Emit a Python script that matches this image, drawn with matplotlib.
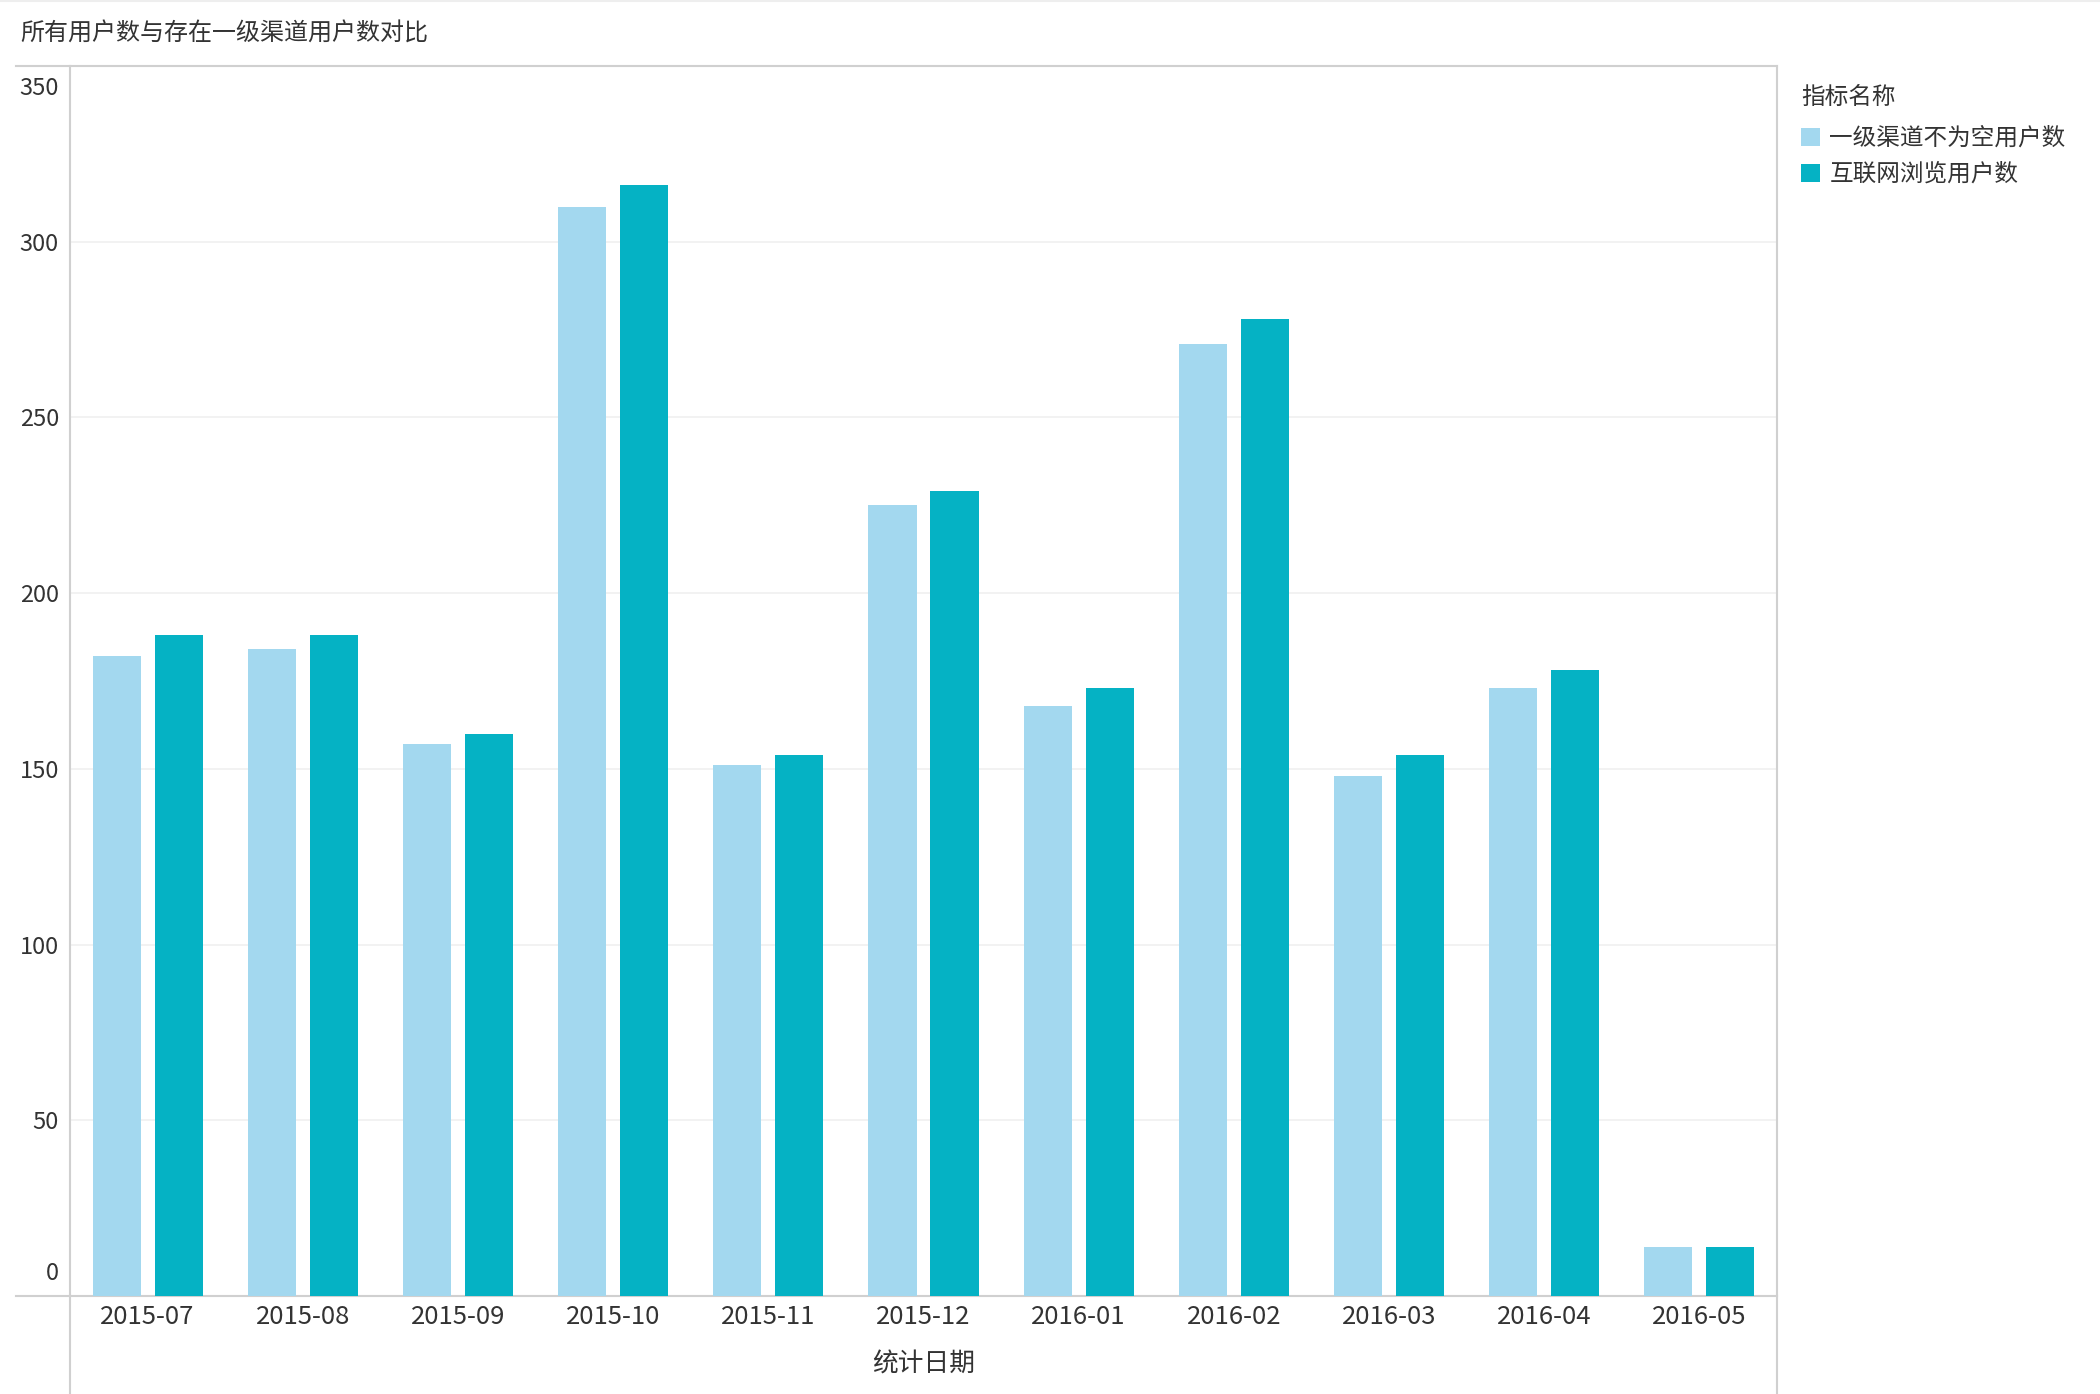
import matplotlib
matplotlib.use("Agg")
import matplotlib.pyplot as plt
import numpy as np
from matplotlib.lines import Line2D
from matplotlib.transforms import ScaledTranslation

plt.rcParams['font.family'] = ['Noto Sans CJK SC', 'DejaVu Sans']

# 数据
months = ["2015-07", "2015-08", "2015-09", "2015-10", "2015-11", "2015-12",
          "2016-01", "2016-02", "2016-03", "2016-04", "2016-05"]
channel_users = [182, 184, 157, 310, 151, 225, 168, 271, 148, 173, 14]
web_users = [188, 188, 160, 316, 154, 229, 173, 278, 154, 178, 14]
series_names = ["一级渠道不为空用户数", "互联网浏览用户数"]
yticks = [0, 50, 100, 150, 200, 250, 300, 350]

light = "#a3d8ef"
dark = "#05b2c4"
line_c = "#d0d0d0"
txt = "#333333"

W, H = 2100, 1394
fig = plt.figure(figsize=(W / 100, H / 100), dpi=100)
ax = fig.add_axes([70 / W, 1 - 1296 / H, (1777 - 70) / W, (1296 - 66) / H])

x = np.arange(len(months))
bw = 0.31
ax.bar(x - 0.2, channel_users, bw, color=light, label=series_names[0], zorder=3)
ax.bar(x + 0.2, web_users, bw, color=dark, label=series_names[1], zorder=3)

ax.set_xlim(-0.5, len(months) - 0.5)
ax.set_ylim(0, 350)
ax.tick_params(length=0, pad=8)
ax.tick_params(axis='x', pad=6)
ax.set_xticks(x)
ax.set_xticklabels(months, fontsize=18.5, color=txt)
ax.set_yticks(yticks)
ax.set_yticklabels([str(v) for v in yticks], fontsize=17, color=txt)

# y 轴两端标签收进坐标区内
labs = ax.get_yticklabels()
labs[0].set_transform(labs[0].get_transform() + ScaledTranslation(0, 25 / 100, fig.dpi_scale_trans))
labs[-1].set_transform(labs[-1].get_transform() + ScaledTranslation(0, -20 / 100, fig.dpi_scale_trans))

ax.grid(axis='y', color="#f0f0f0", linewidth=1.2, zorder=0)

for s in ax.spines.values():
    s.set_color(line_c)
    s.set_linewidth(1.5)

ax.set_xlabel("统计日期", fontsize=18.5, color=txt, labelpad=15)

# 外部框线延伸
def fline(x0, y0, x1, y1):
    fig.add_artist(Line2D([x0 / W, x1 / W], [1 - y0 / H, 1 - y1 / H],
                          color=line_c, linewidth=1.5))

fline(16, 1296, 70, 1296)
fline(16, 66, 70, 66)
fline(70, 1296, 70, H)
fline(1777, 1296, 1777, H)
fig.add_artist(Line2D([0, 1], [1 - 1 / H, 1 - 1 / H], color="#eeeeee", linewidth=1.5))

fig.text(20 / W, 1 - 34 / H, "所有用户数与存在一级渠道用户数对比",
         fontsize=17.3, color=txt, va='center', ha='left')

fig.text(1801 / W, 1 - 97 / H, "指标名称", fontsize=17, color=txt,
         va='center', ha='left')
leg = ax.legend(loc='upper left',
                bbox_to_anchor=(1801 / W, 1 - 127 / H), bbox_transform=fig.transFigure,
                frameon=False, fontsize=17, borderpad=0, borderaxespad=0,
                handlelength=0.8, handleheight=0.8, handletextpad=0.4,
                labelspacing=0.55)
for t in leg.get_texts():
    t.set_color(txt)

fig.savefig("out.png", dpi=100)
